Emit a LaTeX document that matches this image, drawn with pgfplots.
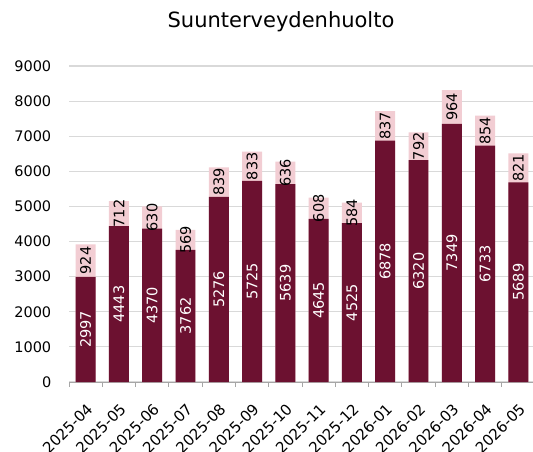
\documentclass[border=0pt]{standalone}
\usepackage{pgfplots}
\pgfplotsset{compat=1.18}
\usepackage{pgfplotstable}
\usepackage{fontspec}
\setmainfont{DejaVu Sans}
\definecolor{maroon}{RGB}{108,17,48}
\definecolor{pinkish}{RGB}{242,205,211}
\definecolor{gridgray}{RGB}{217,217,217}
\definecolor{axisgray}{RGB}{166,166,166}
\pgfplotstableread{
x a b
0 2997 924
1 4443 712
2 4370 630
3 3762 569
4 5276 839
5 5725 833
6 5639 636
7 4645 608
8 4525 584
9 6878 837
10 6320 792
11 7349 964
12 6733 854
13 5689 821
}\data
\begin{document}
\begin{tikzpicture}
\useasboundingbox (0,0) rectangle (533bp,452bp);
\node[anchor=base] at (281bp,424bp) {\fontsize{21bp}{25bp}\selectfont Suunterveydenhuolto};
\begin{axis}[
  at={(69bp,70bp)}, anchor=south west,
  scale only axis, width=466bp, height=316bp,
  xmin=-0.5, xmax=13.5, ymin=0, ymax=9000,
  ytick={0,1000,...,9000},
  ymajorgrids, grid style={gridgray, line width=1.2bp},
  axis x line*=bottom, axis y line*=left,
  y axis line style={draw=none},
  x axis line style={axisgray, line width=1bp},
  xtick={0,...,13},
  xticklabels={2025-04,2025-05,2025-06,2025-07,2025-08,2025-09,2025-10,2025-11,2025-12,2026-01,2026-02,2026-03,2026-04,2026-05},
  major x tick style={draw=none},
  minor xtick={-0.5,0.5,1.5,2.5,3.5,4.5,5.5,6.5,7.5,8.5,9.5,10.5,11.5,12.5,13.5},
  minor x tick style={axisgray, line width=1bp},
  minor tick length=5bp,
  tick align=outside,
  ytick style={draw=none},
  tick label style={font=\fontsize{14.5bp}{17bp}\selectfont},
  yticklabel style={xshift=-10bp},
  xticklabel style={rotate=45, anchor=north east, yshift=-8bp, xshift=-8bp, font=\fontsize{15bp}{18bp}\selectfont},
  /pgf/number format/assume math mode=true,
  /pgf/number format/1000 sep={},
  clip=false,
]
\addplot[ybar, bar width=0.6, fill=pinkish, draw=none, bar shift=0pt] table[x=x, y expr=\thisrow{a}+\thisrow{b}] {\data};
\addplot[ybar, bar width=0.6, fill=maroon, draw=none, bar shift=0pt] table[x=x, y=a] {\data};
\addplot[draw=none, mark=none, nodes near coords, point meta=explicit symbolic,
  every node near coord/.append style={rotate=90, anchor=center, text=white, font=\fontsize{14.5bp}{17bp}\selectfont}]
  table[x=x, y expr=\thisrow{a}/2, meta=a] {\data};
\addplot[draw=none, mark=none, nodes near coords, point meta=explicit symbolic,
  every node near coord/.append style={rotate=90, anchor=center, text=black, font=\fontsize{14.5bp}{17bp}\selectfont}]
  table[x=x, y expr=\thisrow{a}+\thisrow{b}/2, meta=b] {\data};
\end{axis}
\end{tikzpicture}
\end{document}
